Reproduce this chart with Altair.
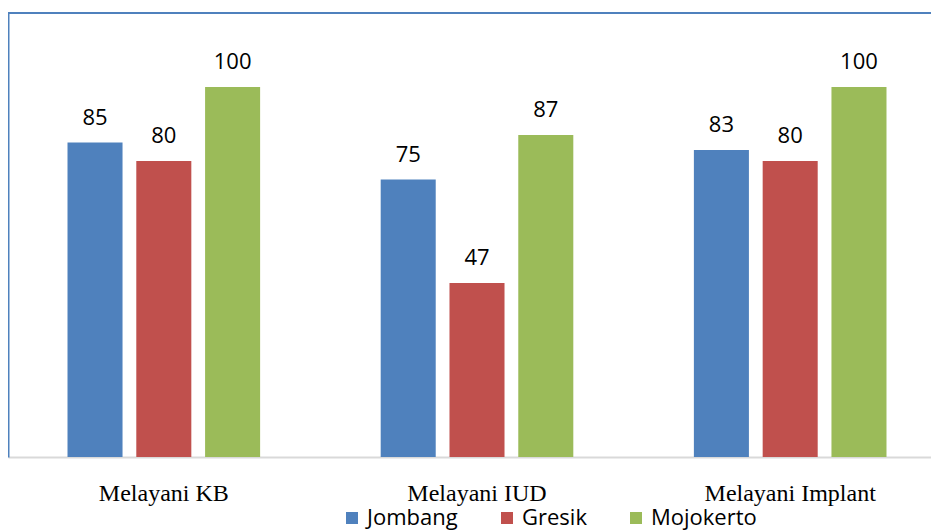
import altair as alt
import pandas as pd

categories = ["Melayani KB", "Melayani IUD", "Melayani Implant"]
series = ["Jombang", "Gresik", "Mojokerto"]
jombang = [85, 75, 83]
gresik = [80, 47, 80]
mojokerto = [100, 87, 100]
colors = ["#4F81BD", "#C0504D", "#9BBB59"]

rows = []
for name, vals in zip(series, [jombang, gresik, mojokerto]):
    for cat, v in zip(categories, vals):
        rows.append({"Kategori": cat, "Seri": name, "Nilai": v})
df = pd.DataFrame(rows)

W = 923
H = 444

base = alt.Chart(df).encode(
    x=alt.X(
        "Kategori:N",
        sort=categories,
        scale=alt.Scale(paddingInner=0.385, paddingOuter=0.19, range=[0, 938]),
        axis=alt.Axis(
            title=None,
            labelAngle=0,
            labelFont="Liberation Serif",
            labelFontSize=24,
            labelColor="#000000",
            ticks=False,
            domainColor="#D9D9D9",
            domainWidth=2,
            labelPadding=24,
        ),
    ),
    xOffset=alt.XOffset("Seri:N", sort=series, scale=alt.Scale(paddingInner=0.2)),
    y=alt.Y(
        "Nilai:Q",
        scale=alt.Scale(domain=[0, 120]),
        axis=alt.Axis(
            title=None,
            labels=False,
            ticks=False,
            grid=False,
            domainColor="#4F81BD",
            domainWidth=2,
        ),
    ),
)

bars = base.mark_bar().encode(
    color=alt.Color(
        "Seri:N",
        sort=series,
        scale=alt.Scale(domain=series, range=colors),
        legend=alt.Legend(
            title=None,
            orient="none",
            legendX=333,
            legendY=494,
            direction="horizontal",
            symbolType="square",
            symbolSize=144,
            symbolStrokeWidth=0,
            labelFont="Open Sans",
            labelFontSize=22,
            labelColor="#000000",
            columnPadding=38,
            labelOffset=4,
        ),
    )
)

text = base.mark_text(
    dy=-18, baseline="alphabetic", font="Open Sans", fontSize=22, color="#000000"
).encode(text="Nilai:Q")

top_border = (
    alt.Chart(pd.DataFrame({"edge": ["top"]}))
    .mark_rule(color="#4F81BD", strokeWidth=2)
    .encode(y=alt.value(0), x=alt.value(0), x2=alt.value(940))
)

chart = (
    alt.layer(bars, text, top_border)
    .properties(
        width=W,
        height=H,
        padding={"left": 0, "top": 5, "right": 0, "bottom": 73},
        autosize=alt.AutoSizeParams(type="none"),
    )
    .configure_view(stroke=None)
)

chart.save("out.html", embed_options={"renderer": "svg", "actions": False})
